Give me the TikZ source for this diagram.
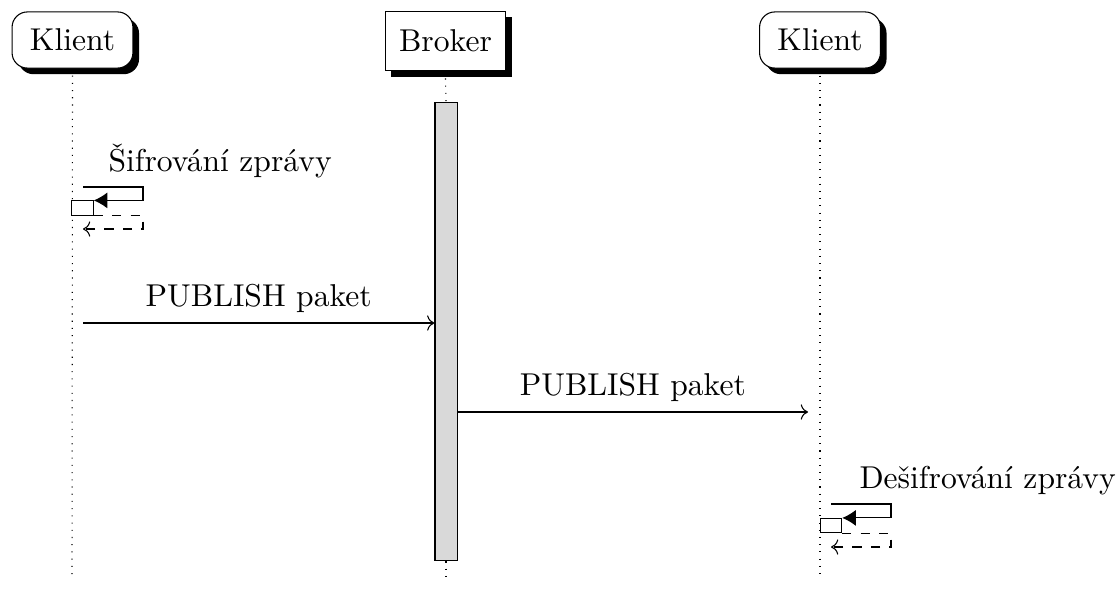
\documentclass[tikz,border=0pt]{standalone}
\usepackage{fontspec}
\usetikzlibrary{arrows.meta,shadows,calc}
\begin{document}
\begin{tikzpicture}[x=0.326pt,y=-0.326pt,line width=0.35pt,
  every node/.style={font=\fontsize{10.3pt}{12.4pt}\selectfont},
  actor/.style={draw,fill=white,rounded corners=5pt,minimum width=39.4pt,minimum height=18.3pt,
    inner sep=0pt,drop shadow={shadow xshift=2pt,shadow yshift=-2pt,fill=black,opacity=1}},
  server/.style={draw,fill=white,minimum width=39.4pt,minimum height=19.5pt,
    inner sep=0pt,drop shadow={shadow xshift=2pt,shadow yshift=-2pt,fill=black,opacity=1}},
  lifeline/.style={dotted},
  actbar/.style={draw,fill=gray!30,minimum width=7.2pt,minimum height=149.6pt,inner sep=0pt},
  callbox/.style={draw,fill=white,minimum width=7pt,minimum height=4.6pt,inner sep=0pt},
  msg/.style={->},
  callarrow/.style={-{Latex[length=4.4pt,width=5.2pt]}},
  callreturn/.style={dashed,->},
  msglabel/.style={above},
  calllabel/.style={anchor=base west,inner sep=0pt}]
\useasboundingbox (0,0) rectangle (1116,589);

% participants
\node[actor]  (kl) at (72.5,40) {Klient};
\node[server] (br) at (445.5,41) {Broker};
\node[actor]  (kr) at (820,40) {Klient};

% broker activation
\node[actbar] (act) at (446,331.5) {};

% end points of the lifelines
\coordinate (klend) at (72,580);
\coordinate (brend) at (446,580);
\coordinate (krend) at (820,580);

\draw[lifeline] ($(kl.south)+(0,7)$) -- (klend);
\draw[lifeline] ($(br.south)+(0,7)$) -- (act.north);
\draw[lifeline] (act.south) -- (brend);
\draw[lifeline] ($(kr.south)+(0,7)$) -- (krend);

% self call: encryption
\node[calllabel] (enc) at (108,171) {Šifrování zprávy};
\node[callbox] (cb1) at (82.5,208) {};
\coordinate (c1a) at (83,187);
\coordinate (c1b) at (143,187);
\coordinate (c1c) at (143,229);
\coordinate (c1d) at (83,229);
\draw[callarrow] (c1a) -- (c1b) -- (c1b |- cb1.north) -- (cb1.north east);
\draw[callreturn] (cb1.south east) -- (c1b |- cb1.south) -- (c1c) -- (c1d);

% messages
\coordinate (m1) at (83,323);
\draw[msg] (m1) -- node[msglabel] {PUBLISH paket} (act.west |- m1);
\coordinate (m2) at (808,412);
\draw[msg] (act.east |- m2) -- node[msglabel] {PUBLISH paket} (m2);

% self call: decryption
\node[calllabel] (dec) at (859,488) {Dešifrování zprávy};
\node[callbox] (cb2) at (831,525.5) {};
\coordinate (c2a) at (831,504);
\coordinate (c2b) at (891,504);
\coordinate (c2c) at (891,547);
\coordinate (c2d) at (831,547);
\draw[callarrow] (c2a) -- (c2b) -- (c2b |- cb2.north) -- (cb2.north east);
\draw[callreturn] (cb2.south east) -- (c2b |- cb2.south) -- (c2c) -- (c2d);
\end{tikzpicture}
\end{document}
